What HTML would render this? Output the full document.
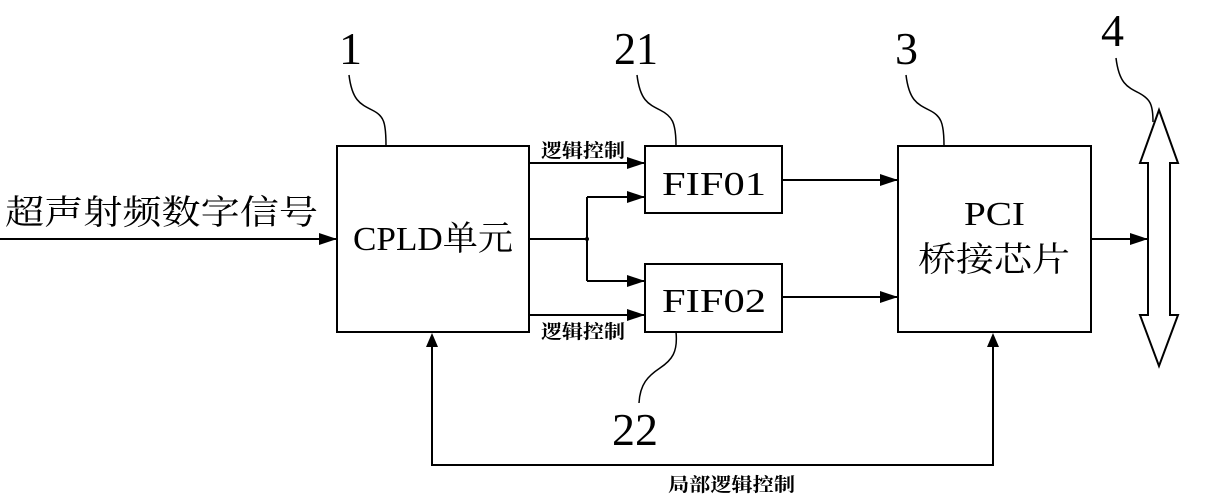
<!DOCTYPE html>
<html><head><meta charset="utf-8"><style>
html,body{margin:0;padding:0;background:#fff;width:1207px;height:503px;overflow:hidden}
svg{display:block}
text{font-family:"Liberation Serif","Noto Serif CJK SC","Noto Sans CJK SC",serif;fill:#000}
</style></head><body>
<svg width="1207" height="503" viewBox="0 0 1207 503" xmlns="http://www.w3.org/2000/svg">
<defs><marker id="a" markerWidth="10" markerHeight="8" refX="10" refY="4" orient="auto" markerUnits="userSpaceOnUse"><path d="M0,0 L10,4 L0,8 Z" fill="#000"/></marker>
<marker id="b" markerWidth="18" markerHeight="12" refX="18" refY="6" orient="auto" markerUnits="userSpaceOnUse"><path d="M0,0 L18,6 L0,12 Z" fill="#000"/></marker></defs>
<g stroke="#000" stroke-width="2" fill="none">
<rect x="337" y="146" width="192" height="186"/>
<rect x="645" y="146" width="137" height="67"/>
<rect x="645" y="264" width="137" height="68"/>
<rect x="898" y="146" width="193" height="186"/>
<line x1="0" y1="239" x2="337" y2="239" marker-end="url(#b)"/>
<line x1="529" y1="163" x2="645" y2="163" marker-end="url(#b)"/>
<line x1="529" y1="315" x2="645" y2="315" marker-end="url(#b)"/>
<line x1="529" y1="239" x2="587" y2="239"/>
<polyline points="587,197 587,281"/>
<line x1="587" y1="197" x2="645" y2="197" marker-end="url(#b)"/>
<line x1="587" y1="281" x2="645" y2="281" marker-end="url(#b)"/>
<line x1="782" y1="180" x2="898" y2="180" marker-end="url(#b)"/>
<line x1="782" y1="297" x2="898" y2="297" marker-end="url(#b)"/>
<line x1="1091" y1="239" x2="1148" y2="239" marker-end="url(#b)"/>
<polyline points="432,345 432,465 993,465 993,345"/>
<path d="M1159,110 L1178,163 L1170,163 L1170,315 L1178,315 L1159,366 L1140,315 L1148,315 L1148,163 L1140,163 Z"/>
<path d="M349,75 C352,100 360,104 372,110 C384,116 386,122 386,146" stroke-width="1.5"/>
<path d="M637,75 C640,100 648,104 660,110 C672,116 676,122 676,146" stroke-width="1.5"/>
<path d="M906,75 C909,100 917,104 929,110 C941,116 944,122 944,146" stroke-width="1.5"/>
<path d="M1116,58 C1119,83 1127,87 1139,93 C1150,99 1153,104 1153,122" stroke-width="1.5"/>
<path d="M676,332 C678,352 672,360 660,368 C648,376 640,384 639,403" stroke-width="1.5"/>
</g>
<path d="M432,333 L426,347 L438,347 Z" fill="#000"/>
<path d="M993,333 L987,347 L999,347 Z" fill="#000"/>
<circle cx="587" cy="239" r="2" fill="#000"/>
<g font-size="34">
<text x="5" y="224" textLength="313" lengthAdjust="spacingAndGlyphs">超声射频数字信号</text>
<text x="353" y="250" textLength="160" lengthAdjust="spacingAndGlyphs">CPLD单元</text>
<text x="662" y="195" textLength="104" lengthAdjust="spacingAndGlyphs">FIF01</text>
<text x="662" y="312" textLength="104" lengthAdjust="spacingAndGlyphs">FIF02</text>
<text x="964" y="225" textLength="61" lengthAdjust="spacingAndGlyphs">PCI</text>
<text x="918" y="271" textLength="152" lengthAdjust="spacingAndGlyphs">桥接芯片</text>
</g>
<g font-size="46">
<text x="339" y="64">1</text>
<text x="614" y="64" textLength="44" lengthAdjust="spacingAndGlyphs">21</text>
<text x="895" y="64">3</text>
<text x="1101" y="46">4</text>
<text x="612" y="445" textLength="46" lengthAdjust="spacingAndGlyphs">22</text>
</g>
<g font-size="19" font-weight="bold">
<text x="541" y="157" textLength="84" lengthAdjust="spacingAndGlyphs">逻辑控制</text>
<text x="541" y="338" textLength="84" lengthAdjust="spacingAndGlyphs">逻辑控制</text>
<text x="668" y="491" textLength="127" lengthAdjust="spacingAndGlyphs">局部逻辑控制</text>
</g>
</svg>
</body></html>
